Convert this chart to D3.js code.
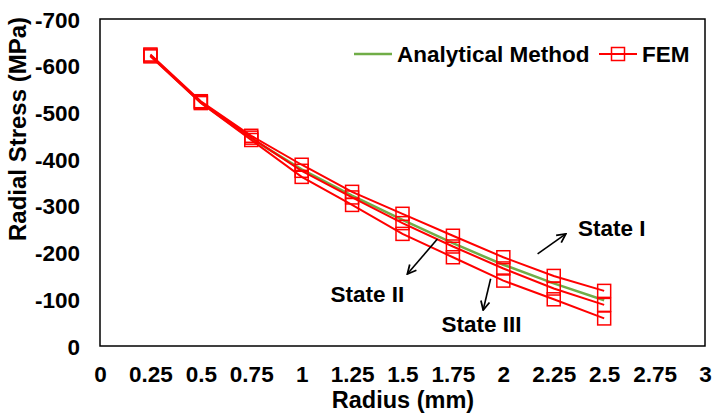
<!DOCTYPE html>
<html><head><meta charset="utf-8">
<script src="https://cdn.jsdelivr.net/npm/d3@7"></script>
<style>
body{margin:0;background:#fff;}
text{font-family:"Liberation Sans",Arial,sans-serif;font-weight:bold;fill:#000;}
</style></head>
<body>
<svg id="chart" width="713" height="413"></svg>
<script>
const radius = [0.25, 0.5, 0.75, 1, 1.25, 1.5, 1.75, 2, 2.25, 2.5];
const analytical = [-622, -521, -444, -378, -322, -270, -220, -174, -134, -98];
const femStateI = [-624, -524, -450, -388, -330, -283, -236, -190, -150, -118];
const femStateII = [-622, -522, -446, -375, -318, -263, -213, -166, -123, -88];
const femStateIII = [-620, -520, -441, -362, -302, -240, -190, -140, -100, -59];
const xTicks = [0, 0.25, 0.5, 0.75, 1, 1.25, 1.5, 1.75, 2, 2.25, 2.5, 2.75, 3];
const yTicks = [0, -100, -200, -300, -400, -500, -600, -700];
const annotations = [
  {label: "State I", tx: 2.37, ty: -235, ax: [2.17, -197], bx: [2.31, -240]},
  {label: "State II", tx: 1.143, ty: -95, ax: [1.673, -229], bx: [1.524, -154]},
  {label: "State III", tx: 1.693, ty: -30, ax: [1.937, -144], bx: [1.9, -77]}
];

const svg = d3.select("#chart");
const L = 100, R = 705, T = 19, B = 346;
const FS = 22.5;
const x = d3.scaleLinear().domain([0, 3]).range([L, R]);
const y = d3.scaleLinear().domain([0, -700]).range([B, T]);

svg.append("defs").append("marker")
  .attr("id", "arr").attr("viewBox", "0 0 10 10").attr("refX", 9).attr("refY", 5)
  .attr("markerWidth", 11).attr("markerHeight", 11).attr("markerUnits", "userSpaceOnUse")
  .attr("orient", "auto")
  .append("path").attr("d", "M1,1 L9,5 L1,9").attr("fill", "none").attr("stroke", "#000").attr("stroke-width", 1.6);

const xAxis = d3.axisBottom(x).tickValues(xTicks).tickSize(0).tickPadding(0).tickFormat(d => String(d));
const gx = svg.append("g").attr("transform", `translate(0,${B})`).call(xAxis);
gx.select(".domain").remove();
gx.selectAll("text").attr("font-size", FS).attr("y", 36).attr("dy", 0).attr("font-family", "Liberation Sans, Arial, sans-serif").attr("font-weight", "bold");

const yAxis = d3.axisLeft(y).tickValues(yTicks).tickSize(0).tickPadding(0).tickFormat(d => String(d));
const gy = svg.append("g").attr("transform", `translate(${L},0)`).call(yAxis);
gy.select(".domain").remove();
gy.selectAll("text").attr("font-size", FS).attr("x", -20).attr("dy", "0.36em").attr("font-family", "Liberation Sans, Arial, sans-serif").attr("font-weight", "bold");

svg.append("rect").attr("x", L).attr("y", T).attr("width", R - L).attr("height", B - T)
  .attr("fill", "none").attr("stroke", "#000").attr("stroke-width", 1.5);

const line = d3.line().x((d, i) => x(radius[i])).y(d => y(d));

svg.append("path").datum(analytical).attr("d", line)
  .attr("fill", "none").attr("stroke", "#70AD47").attr("stroke-width", 2.5);

const fem = [femStateI, femStateII, femStateIII];
fem.forEach(s => {
  svg.append("path").datum(s).attr("d", line)
    .attr("fill", "none").attr("stroke", "#FF0000").attr("stroke-width", 2);
  svg.append("g").selectAll("rect").data(s).join("rect")
    .attr("x", (d, i) => x(radius[i]) - 6.5).attr("y", d => y(d) - 6.5)
    .attr("width", 13).attr("height", 13)
    .attr("fill", "none").attr("stroke", "#FF0000").attr("stroke-width", 1.5);
});

annotations.forEach(a => {
  svg.append("line")
    .attr("x1", x(a.ax[0])).attr("y1", y(a.ax[1]))
    .attr("x2", x(a.bx[0])).attr("y2", y(a.bx[1]))
    .attr("stroke", "#000").attr("stroke-width", 1.6).attr("marker-end", "url(#arr)");
  svg.append("text").attr("x", x(a.tx)).attr("y", y(a.ty)).attr("font-size", FS).text(a.label);
});

const lg = svg.append("g");
lg.append("line").attr("x1", 354).attr("x2", 392).attr("y1", 54).attr("y2", 54)
  .attr("stroke", "#70AD47").attr("stroke-width", 2.5);
lg.append("text").attr("x", 397).attr("y", 62).attr("font-size", FS).text("Analytical Method");
lg.append("line").attr("x1", 599).attr("x2", 637).attr("y1", 54).attr("y2", 54)
  .attr("stroke", "#FF0000").attr("stroke-width", 2);
lg.append("rect").attr("x", 611.5).attr("y", 47.5).attr("width", 13).attr("height", 13)
  .attr("fill", "none").attr("stroke", "#FF0000").attr("stroke-width", 1.5);
lg.append("text").attr("x", 642).attr("y", 62).attr("font-size", FS).text("FEM");

svg.append("text").attr("x", 403).attr("y", 408).attr("text-anchor", "middle").attr("font-size", 23.5).text("Radius (mm)");
svg.append("text").attr("transform", "translate(26,129) rotate(-90)").attr("text-anchor", "middle").attr("font-size", 24).text("Radial Stress (MPa)");
</script>
</body></html>
